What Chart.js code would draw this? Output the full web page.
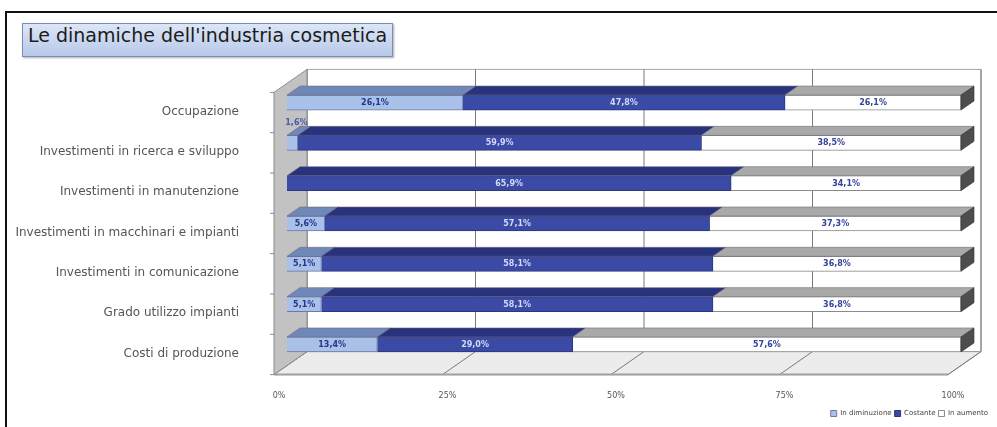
<!DOCTYPE html>
<html>
<head>
<meta charset="utf-8">
<script src="https://cdn.jsdelivr.net/npm/chart.js@4/dist/chart.umd.min.js"></script>
<style>
  html, body { margin: 0; padding: 0; background: #fff; overflow: hidden; }
  #wrap { position: relative; width: 997px; height: 427px; }
  #frame { position: absolute; left: 5px; top: 11px; width: 1000px; height: 430px;
           border-left: 2px solid #111; border-top: 2px solid #111; }
  #title { position: absolute; left: 22px; top: 23px; height: 32px; line-height: 32px;
           padding: 0 5px; font: 19px "DejaVu Sans", sans-serif; color: #1c1c1c;
           background: linear-gradient(#dde6f6, #b7c8ea); border: 1px solid #7c8cb4;
           box-shadow: 1px 1px 2px #aaa; white-space: nowrap; }
  #chart1 { position: absolute; left: 0; top: 0; }
</style>
</head>
<body>
<div id="wrap">
  <div id="frame"></div>
  <div id="title">Le dinamiche dell'industria cosmetica</div>
  <canvas id="chart1" width="997" height="427"></canvas>
</div>
<script>
/*
    Le dinamiche dell'industria cosmetica
    Horizontal 100% stacked bars, with a small plugin that fakes the 3D look
    (back wall, floor, left wall, top and end faces of the bars).
*/

// 1. The data
const categories = [
    'Occupazione',
    'Investimenti in ricerca e sviluppo',
    'Investimenti in manutenzione',
    'Investimenti in macchinari e impianti',
    'Investimenti in comunicazione',
    'Grado utilizzo impianti',
    'Costi di produzione'
];
const inDiminuzione = [26.1, 1.6, 0, 5.6, 5.1, 5.1, 13.4];
const costante      = [47.8, 59.9, 65.9, 57.1, 58.1, 58.1, 29.0];
const inAumento     = [26.1, 38.5, 34.1, 37.3, 36.8, 36.8, 57.6];
const xTicks = [0, 25, 50, 75, 100];

// 3D offsets (pixels) relative to the front face of the bars
const barDepth = { x: 13, y: -9 };
const wallBack = { x: 20, y: -13 };
const wallFront = { x: -13, y: 10 };

const topColors = ['#7088b9', '#29327c', '#a9a9a9'];
const labelColors = ['#26358c', '#d3daf7', '#34449a'];

function poly(ctx, pts, fill, stroke, lw) {
    ctx.beginPath();
    ctx.moveTo(pts[0][0], pts[0][1]);
    for (let i = 1; i < pts.length; i++) ctx.lineTo(pts[i][0], pts[i][1]);
    ctx.closePath();
    if (fill) { ctx.fillStyle = fill; ctx.fill(); }
    if (stroke) { ctx.strokeStyle = stroke; ctx.lineWidth = lw || 1; ctx.stroke(); }
}

const fake3d = {
    id: 'fake3d',
    beforeDatasetsDraw(chart) {
        const ctx = chart.ctx;
        const a = chart.chartArea;
        const xs = chart.scales.x;
        const ys = chart.scales.y;
        const L = a.left, R = a.right, T = a.top, B = a.bottom;
        ctx.save();
        // back wall
        poly(ctx, [[L + wallBack.x, T + wallBack.y], [R + wallBack.x, T + wallBack.y],
                   [R + wallBack.x, B + wallBack.y], [L + wallBack.x, B + wallBack.y]], '#ffffff', '#a5a5a5', 1);
        xTicks.forEach(v => {
            const px = xs.getPixelForValue(v);
            ctx.beginPath();
            ctx.moveTo(px + wallBack.x, T + wallBack.y);
            ctx.lineTo(px + wallBack.x, B + wallBack.y);
            ctx.strokeStyle = '#7a7a7a';
            ctx.lineWidth = 1;
            ctx.stroke();
        });
        // floor
        poly(ctx, [[L + wallFront.x, B + wallFront.y], [R + wallFront.x, B + wallFront.y],
                   [R + wallBack.x, B + wallBack.y], [L + wallBack.x, B + wallBack.y]], '#ececec', '#9a9a9a', 1);
        xTicks.forEach(v => {
            const px = xs.getPixelForValue(v);
            ctx.beginPath();
            ctx.moveTo(px + wallFront.x, B + wallFront.y);
            ctx.lineTo(px + wallBack.x, B + wallBack.y);
            ctx.strokeStyle = '#7a7a7a';
            ctx.stroke();
        });
        ctx.beginPath();
        ctx.moveTo(L + wallFront.x, B + wallFront.y);
        ctx.lineTo(R + wallFront.x, B + wallFront.y);
        ctx.strokeStyle = '#a0a0a0';
        ctx.lineWidth = 2;
        ctx.stroke();
        // left wall
        poly(ctx, [[L + wallFront.x, T + wallFront.y], [L + wallBack.x, T + wallBack.y],
                   [L + wallBack.x, B + wallBack.y], [L + wallFront.x, B + wallFront.y]], '#c2c2c2', '#8a8a8a', 1);
        // small category marks on the wall edge
        const half = (ys.getPixelForValue(1) - ys.getPixelForValue(0)) / 2;
        for (let i = 0; i <= categories.length; i++) {
            const py = ys.getPixelForValue(i) - half + wallFront.y;
            ctx.beginPath();
            ctx.moveTo(L + wallFront.x - 4, py);
            ctx.lineTo(L + wallFront.x, py);
            ctx.strokeStyle = '#8a8a8a';
            ctx.lineWidth = 1;
            ctx.stroke();
        }
        ctx.restore();
    },
    afterDatasetsDraw(chart) {
        const ctx = chart.ctx;
        ctx.save();
        // top faces and the end face
        chart.data.datasets.forEach((ds, di) => {
            const meta = chart.getDatasetMeta(di);
            meta.data.forEach((bar, i) => {
                if (!ds.data[i]) return;
                const x0 = Math.min(bar.base, bar.x), x1 = Math.max(bar.base, bar.x);
                const top = bar.y - bar.height / 2, bot = bar.y + bar.height / 2;
                poly(ctx, [[x0, top], [x1, top], [x1 + barDepth.x, top + barDepth.y],
                           [x0 + barDepth.x, top + barDepth.y]], topColors[di], '#6b6b7d', 0.6);
                if (di === chart.data.datasets.length - 1) {
                    poly(ctx, [[x1, top], [x1 + barDepth.x, top + barDepth.y],
                               [x1 + barDepth.x, bot + barDepth.y], [x1, bot]], '#4d4d4d', '#333', 0.6);
                }
            });
        });
        // value labels
        ctx.font = 'bold 8px "DejaVu Sans", sans-serif';
        ctx.textAlign = 'center';
        ctx.textBaseline = 'middle';
        chart.data.datasets.forEach((ds, di) => {
            const meta = chart.getDatasetMeta(di);
            meta.data.forEach((bar, i) => {
                const v = ds.data[i];
                if (!v) return;
                const txt = v.toFixed(1).replace('.', ',') + '%';
                const w = Math.abs(bar.x - bar.base);
                ctx.fillStyle = labelColors[di];
                if (w < 20) {
                    ctx.fillStyle = '#4a5aa6';
                    ctx.fillText(txt, (bar.x + bar.base) / 2 + 4, bar.y - bar.height / 2 - 12);
                } else {
                    ctx.fillText(txt, (bar.x + bar.base) / 2, bar.y + 0.5);
                }
            });
        });
        ctx.restore();
    }
};

const context = document.getElementById('chart1').getContext('2d');

const setup = {
    labels: categories,
    datasets: [
        { label: 'In diminuzione', data: inDiminuzione, backgroundColor: '#a9c0e9', borderColor: '#6c7aa8' },
        { label: 'Costante', data: costante, backgroundColor: '#3a4aa5', borderColor: '#2b3580' },
        { label: 'In aumento', data: inAumento, backgroundColor: '#ffffff', borderColor: '#8a8a8a' }
    ]
};

const config = {
    type: 'bar',
    data: setup,
    options: {
        indexAxis: 'y',
        responsive: false,
        animation: false,
        borderWidth: 1,
        barThickness: 15,
        layout: { padding: { top: 82.4, left: 0, right: 6, bottom: 0 } },
        scales: {
            x: {
                stacked: true,
                min: 0,
                max: 100,
                grid: { display: false },
                border: { display: false },
                afterBuildTicks: s => { s.ticks = xTicks.map(v => ({ value: v })); },
                afterFit: s => { s.height = 42.4; },
                ticks: {
                    padding: 19,
                    labelOffset: -8,
                    color: '#555',
                    font: { family: 'DejaVu Sans', size: 8 },
                    callback: v => v + '%'
                }
            },
            y: {
                stacked: true,
                grid: { display: false },
                border: { display: false },
                afterFit: s => { s.width = 287; },
                ticks: {
                    padding: 40,
                    labelOffset: 9,
                    color: '#555',
                    font: { family: 'DejaVu Sans', size: 12 }
                }
            },
            // empty axis on the right, keeps room for the 3D depth while the legend goes to the edge
            y2: {
                type: 'linear',
                position: 'right',
                grid: { display: false },
                border: { display: false },
                ticks: { display: false },
                afterFit: s => { s.width = 30; }
            }
        },
        plugins: {
            legend: {
                position: 'bottom',
                align: 'end',
                labels: {
                    padding: 3,
                    boxWidth: 6,
                    boxHeight: 6,
                    color: '#444',
                    font: { family: 'DejaVu Sans', size: 7 }
                }
            },
            tooltip: { enabled: false }
        }
    },
    plugins: [fake3d]
};

const chart1 = new Chart(context, config);
</script>
</body>
</html>
